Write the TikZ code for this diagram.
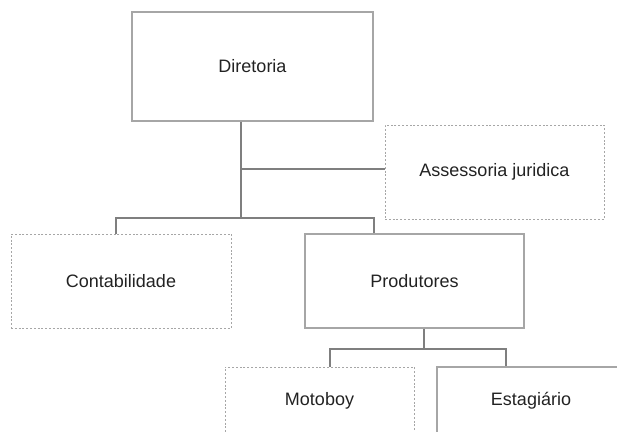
\documentclass[tikz,border=0pt]{standalone}
\usepackage{fontspec}
\setmainfont{Liberation Sans}
\definecolor{boxline}{HTML}{A6A6A6}
\definecolor{conline}{HTML}{7F7F7F}
\definecolor{txt}{HTML}{222222}
\tikzset{
  solidbox/.style={draw=boxline, line width=1.4pt, rectangle, inner sep=0pt, text=txt, font=\fontsize{18}{21}\selectfont},
  dotbox/.style={draw=boxline, line width=1pt, dash pattern=on 2pt off 1.8pt, rectangle, inner sep=0pt, text=txt, font=\fontsize{18}{21}\selectfont},
  conn/.style={draw=conline, line width=1.2pt}
}
\begin{document}
\begin{tikzpicture}[x=1pt,y=1pt]
\useasboundingbox (0,0) rectangle (617,-431);
\begin{scope}
\clip (0,0) rectangle (617,-431);
\node[solidbox, minimum width=241pt, minimum height=109pt] (dir) at (252.5,-66.5) {Diretoria};
\node[dotbox, minimum width=219pt, minimum height=94pt] (ass) at (494.5,-172) {Assessoria juridica};
\node[dotbox, minimum width=220pt, minimum height=94pt] (con) at (121,-281) {Contabilidade};
\node[solidbox, minimum width=219pt, minimum height=94pt] (pro) at (414.5,-281) {Produtores};
\node[dotbox, minimum width=189pt, minimum height=68pt] (mot) at (319.5,-401) {Motoboy};
\node[solidbox, minimum width=188pt, minimum height=68pt] (est) at (531,-401) {Estagiário};
\coordinate (j0) at (241,-169);
\coordinate (j1) at (241,-218);
\coordinate (cl) at (116,-218);
\coordinate (cr) at (374,-218);
\coordinate (p0) at (424,-349);
\coordinate (pl) at (330,-349);
\coordinate (pr) at (506,-349);
\draw[conn] (dir.south -| j1) -- (j1);
\draw[conn] (j0) -- (j0 -| ass.west);
\draw[conn] (con.north -| cl) -- (cl) -- (cr) -- (pro.north -| cr);
\draw[conn] (pro.south -| p0) -- (p0);
\draw[conn] (mot.north -| pl) -- (pl) -- (pr) -- (est.north -| pr);
\end{scope}
\end{tikzpicture}
\end{document}
